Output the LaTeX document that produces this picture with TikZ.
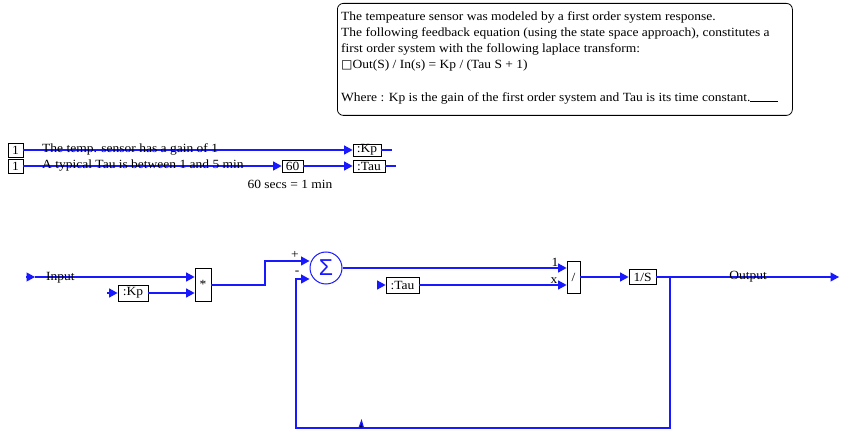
\documentclass[tikz,border=0pt]{standalone}
\usepackage{fontspec}
\setmainfont[FakeStretch=1.08]{Liberation Serif}
\newfontfamily\symfont{DejaVu Sans}
\newfontfamily\sigfont{Liberation Sans}
\usetikzlibrary{arrows.meta}
\definecolor{wire}{RGB}{25,25,255}
\begin{document}
\begin{tikzpicture}[x=1pt,y=-1pt, font=\fontsize{12.5}{15}\selectfont,
  wire/.style={draw=wire, line width=1.2pt},
  arr/.style={wire, -{Triangle[length=8.5pt,width=9pt]}},
  blk/.style={draw=black, line width=0.8pt, fill=white, inner sep=0pt, text=black},
  lbl/.style={inner sep=0pt, text=black}]
\fill[white] (0,0) rectangle (841,430);
\useasboundingbox (0,0) rectangle (841,430);

% ---- note box
\node[draw, line width=0.8pt, rounded corners=6pt, anchor=north west,
      minimum width=455pt, minimum height=112pt, inner sep=0pt] (note) at (337,3) {};
\node[lbl, anchor=base west] (t1) at (341,21) {The tempeature sensor was modeled by a first order system response.};
\node[lbl, anchor=base west] (t2) at (341,37) {The following feedback equation (using the state space approach), constitutes a};
\node[lbl, anchor=base west] (t3) at (341,53) {first order system with the following laplace transform:};
\node[lbl, anchor=base west] (t4) at (341,69) {{\symfont\fontsize{12}{12}\selectfont □}Out(S) / In(s) = Kp / (Tau S + 1)};
\node[lbl, anchor=base west] (t6) at (341,102) {Where : Kp is the gain of the first order system and Tau is its time constant.\rule{28pt}{0.6pt}};

% ---- constants
\node[blk, minimum width=15pt, minimum height=14pt] (one1) at (15.5,150) {1};
\node[blk, minimum width=15pt, minimum height=14pt] (one2) at (15.5,166) {1};
\node[blk, minimum width=28pt, minimum height=12pt] (kp1) at (367,150) {:Kp};
\node[blk, minimum width=32pt, minimum height=12pt] (tau1) at (369,166) {:Tau};
\node[blk, minimum width=21pt, minimum height=12pt] (sixty) at (292.5,166) {60};
\coordinate (kpo) at (392,150);
\coordinate (tauo) at (396,166);
\draw[arr] (one1.east) -- (kp1.west);
\draw[wire] (kp1.east) -- (kpo);
\draw[arr] (one2.east) -- (sixty.west);
\draw[arr] (sixty.east) -- (tau1.west);
\draw[wire] (tau1.east) -- (tauo);
\node[lbl, anchor=base west] (c1) at (42,153) {The temp. sensor has a gain of 1};
\node[lbl, anchor=base west] (c2) at (42,169) {A typical Tau is between 1 and 5 min};
\node[lbl] (secs) at (290,184) {60 secs = 1 min};

% ---- block diagram
\coordinate (inS) at (26,277);
\coordinate (inT) at (35,277);
\node[blk, minimum width=16pt, minimum height=33pt] (mult) at (203,284.5) {*};
\node[blk, minimum width=30pt, minimum height=16pt] (kp2) at (133,293) {:Kp};
\coordinate (kpS) at (107,293);
\node[draw=wire, line width=1pt, circle, minimum size=32pt, inner sep=0pt, text=wire] (sum) at (326,268) {};
\node[text=wire, inner sep=0pt, font=\sigfont\fontsize{23}{23}\selectfont] (sig) at (sum.center) {Σ};
\node[blk, minimum width=33pt, minimum height=16pt] (tau2) at (402.5,285) {:Tau};
\coordinate (tauS) at (377,285);
\node[blk, minimum width=13pt, minimum height=32pt] (div) at (573.5,277) {/};
\node[blk, minimum width=27pt, minimum height=15pt] (integ) at (642.5,277) {1/S};
\coordinate (outE) at (839,277);
\coordinate (br) at (670,277);
\coordinate (fb1) at (670,428);
\coordinate (fb2) at (296,428);
\coordinate (fb3) at (296,279);
\coordinate (m1) at (265,285);
\coordinate (m2) at (265,261);

\draw[arr] (inS) -- (inT);
\draw[arr] (inT) -- (mult.west |- inT);
\draw[arr] (kpS) -- (kp2.west);
\draw[arr] (kp2.east) -- (mult.west |- kp2);
\draw[arr] (mult.east |- m1) -- (m1) -- (m2) -- (sum.west |- m2);
\draw[arr] (br) -- (fb1) -- (fb2) -- (fb3) -- (sum.west |- fb3);
\draw[arr] (sum.east) -- (div.west |- sum.east);
\draw[arr] (tauS) -- (tau2.west);
\draw[arr] (tau2.east) -- (div.west |- tau2);
\draw[arr] (div.east) -- (integ.west);
\draw[arr] (integ.east) -- (outE);
\fill[wire] (359,428) -- (361.5,421) -- (363.5,428) -- cycle;

\node[lbl, anchor=base west] (inLbl) at (46,281) {Input};
\node[lbl, anchor=base] (outLbl) at (748,280) {Output};
\node[lbl] (plus) at (295,255) {+};
\node[lbl] (minus) at (297,273) {-};
\node[lbl, anchor=base] (onel) at (555,267) {1};
\node[lbl, anchor=base] (xl) at (554,284) {x};
\end{tikzpicture}
\end{document}
